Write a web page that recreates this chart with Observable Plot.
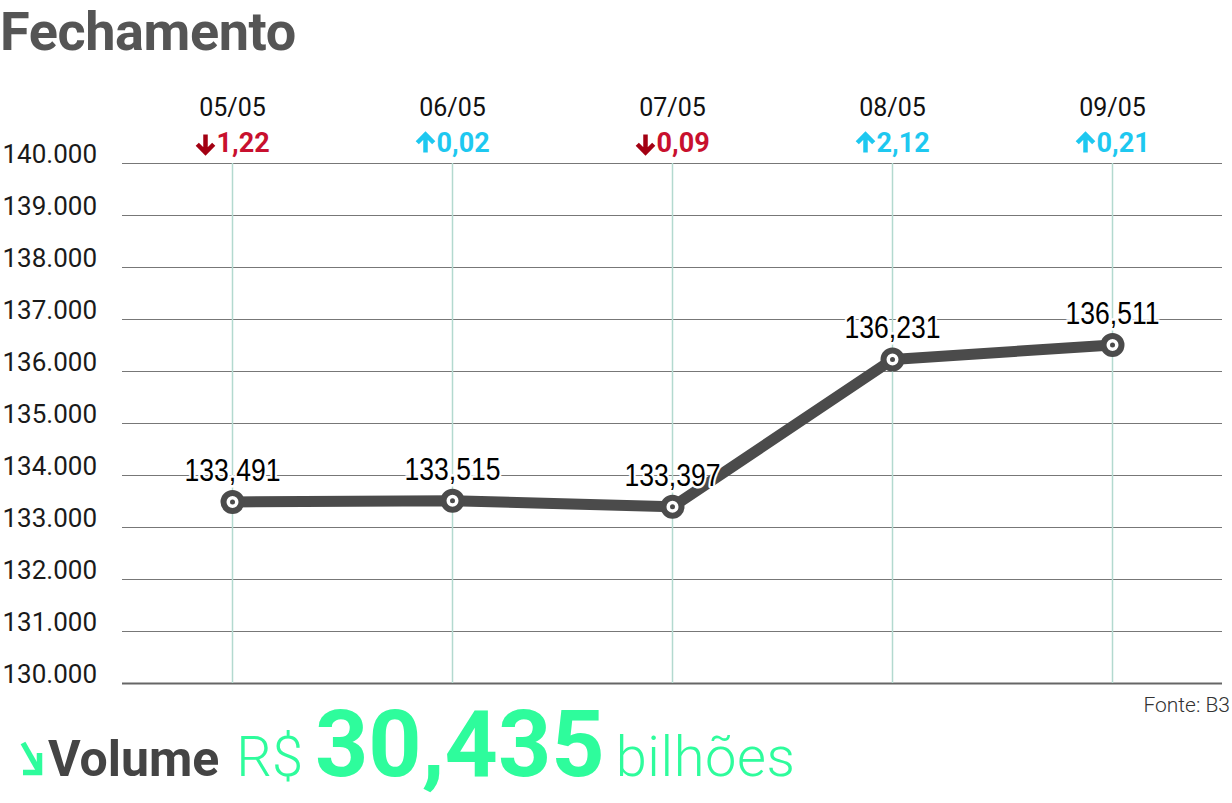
<!DOCTYPE html>
<html>
<head>
<meta charset="utf-8">
<script src="https://cdn.jsdelivr.net/npm/d3@7"></script>
<script src="https://cdn.jsdelivr.net/npm/@observablehq/plot@0.6"></script>
<style>
  html, body { margin: 0; padding: 0; background: #fff; }
  #wrap { position: relative; width: 1232px; height: 803px; overflow: hidden; font-family: Roboto, "Open Sans", sans-serif; }
  #title { position: absolute; left: 0; top: 0; line-height: normal; font-size: 54px; font-weight: 700; color: #555; letter-spacing: -0.4px; }
  #chart { position: absolute; left: 0; top: 60px; }
  #fonte { position: absolute; right: 2px; top: 693px; font-size: 21px; font-weight: 300; color: #333; }
  #volume { position: absolute; left: 20px; top: 690px; white-space: nowrap; color: #2efc9c; display: flex; align-items: baseline; }
</style>
</head>
<body>
<div id="wrap">
  <div id="title">Fechamento</div>
  <div id="chart"></div>
  <div id="fonte">Fonte: B3</div>
  <div id="volume"><svg width="23" height="35" viewBox="0 0 23 35" style="margin-right:5px"><path d="M3,2 L19.5,31" fill="none" stroke="#2efc9c" stroke-width="5.5"/><path d="M19.5,12 L19.5,31.5 L3,31.5" fill="none" stroke="#2efc9c" stroke-width="5.5" stroke-linejoin="miter"/></svg><span style="font-weight:700;font-size:50px;color:#444;margin-right:17px">Volume</span><span style="font-weight:300;font-size:56px;margin-right:12px">R$</span><span style="font-weight:700;font-size:93px;margin-right:11px">30,435</span><span style="font-weight:300;font-size:56px;letter-spacing:0.6px">bilhões</span></div>
</div>
<script>
const dates = ["05/05", "06/05", "07/05", "08/05", "09/05"];
const closes = [133491, 133515, 133397, 136231, 136511];
const closeLabels = ["133,491", "133,515", "133,397", "136,231", "136,511"];
const changes = ["1,22", "0,02", "0,09", "2,12", "0,21"];
const directions = ["down", "up", "down", "up", "up"];
const yTicks = [130000, 131000, 132000, 133000, 134000, 135000, 136000, 137000, 138000, 139000, 140000];

const rows = dates.map((d, i) => ({
  date: d, close: closes[i], label: closeLabels[i], change: changes[i], dir: directions[i]
}));

const fmtTick = d => d3.format(",")(d).replace(",", ".");
const upColor = "#1ec8f0", downColor = "#c8102e", downArrow = "#a30012";
const lineColor = "#4b4b4b";

const chart = Plot.plot({
  width: 1232,
  height: 663,
  marginTop: 103,
  marginBottom: 40,
  marginLeft: 122,
  marginRight: 10,
  style: { fontFamily: "Roboto, sans-serif", background: "white" },
  x: { type: "point", domain: dates, padding: 0.5, axis: null },
  y: { domain: [130000, 140000], axis: null },
  marks: [
    Plot.ruleY(yTicks.filter(d => d !== 130000), { y: d => d, stroke: "#777", strokeWidth: 1 }),
    Plot.ruleY([130000], { y: d => d, stroke: "#666", strokeWidth: 2 }),
    Plot.ruleX(rows, { x: "date", y1: 130000, y2: 140000, stroke: "#b3d9cf", strokeWidth: 1.5 }),
    Plot.text(yTicks, { y: d => d, frameAnchor: "left", text: fmtTick, textAnchor: "start", lineAnchor: "middle", dx: -120, dy: -9, fontSize: 26, fill: "#1a1a1a" }),
    Plot.text(rows, { x: "date", frameAnchor: "top", lineAnchor: "middle", text: "date", dy: -56, fontSize: 25, fill: "#111" }),
    Plot.vector(rows, { x: "date", frameAnchor: "top", dx: -27, dy: -20, length: 18, r: 8, anchor: "middle", rotate: d => d.dir === "up" ? 0 : 180, shape: "arrow", stroke: d => d.dir === "up" ? upColor : downArrow, strokeWidth: 4.5, strokeLinejoin: "miter", strokeLinecap: "butt" }),
    Plot.text(rows, { x: "date", frameAnchor: "top", lineAnchor: "middle", textAnchor: "start", text: "change", dx: -16, dy: -20, fontSize: 27, fontWeight: 700, fill: d => d.dir === "up" ? upColor : downColor }),
    Plot.line(rows, { x: "date", y: "close", stroke: lineColor, strokeWidth: 11, strokeLinejoin: "round", strokeLinecap: "round" }),
    Plot.dot(rows, { x: "date", y: "close", r: 9, fill: "white", stroke: lineColor, strokeWidth: 6 }),
    Plot.dot(rows, { x: "date", y: "close", r: 2.5, fill: lineColor, stroke: null }),
    Plot.text(rows, { x: "date", y: "close", text: "label", lineAnchor: "bottom", dy: -21, fontSize: 32, fontFamily: "'Liberation Sans', Arimo, sans-serif", fill: "#000", stroke: "white", strokeWidth: 5, paintOrder: "stroke", className: "vlabel" })
  ]
});
document.getElementById("chart").appendChild(chart);

// Condense the value labels horizontally (narrow face look)
d3.select(chart).selectAll("g.vlabel text").each(function () {
  const tr = this.getAttribute("transform");
  if (tr) this.setAttribute("transform", tr + " scale(0.83,1)");
});
</script>
</body>
</html>
